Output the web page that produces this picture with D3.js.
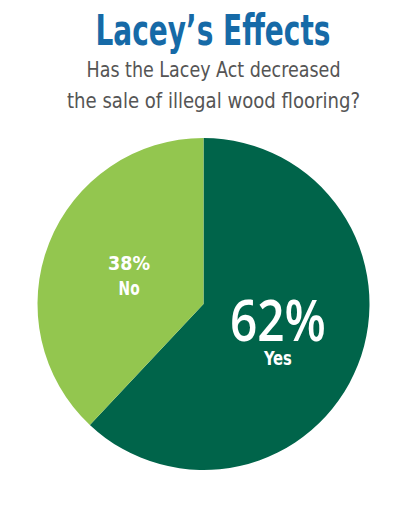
<!DOCTYPE html>
<html>
<head>
<meta charset="utf-8">
<script src="https://cdn.jsdelivr.net/npm/d3@7"></script>
<style>
  html, body { margin: 0; padding: 0; background: #fff; }
  svg { display: block; }
</style>
</head>
<body>
<div id="chart"></div>
<script>
// chart data
const answers = ["Yes", "No"];
const shares = [62, 38];
const titleText = "Lacey\u2019s Effects";
const subtitleLines = ["Has the Lacey Act decreased", "the sale of illegal wood flooring?"];

const width = 400, height = 510;
const cx = 203.5, cy = 304, radius = 166;

const svg = d3.select("#chart").append("svg")
    .attr("width", width)
    .attr("height", height);

const condensed = "'DejaVu Sans Condensed', 'Liberation Sans Narrow', Roboto, sans-serif";

// title + question
svg.append("text")
    .attr("x", 213).attr("y", 45)
    .attr("text-anchor", "middle")
    .attr("font-family", condensed)
    .attr("font-weight", "bold")
    .attr("font-size", 43)
    .attr("fill", "#166aa7")
    .attr("textLength", 235)
    .attr("lengthAdjust", "spacingAndGlyphs")
    .text(titleText);

const subWidths = [254, 293];
const subBase = [77, 108];
svg.append("g").selectAll("text")
    .data(subtitleLines)
    .join("text")
    .attr("x", 213.5)
    .attr("y", (d, i) => subBase[i])
    .attr("text-anchor", "middle")
    .attr("font-family", condensed)
    .attr("font-size", 21)
    .attr("fill", "#555555")
    .attr("textLength", (d, i) => subWidths[i])
    .attr("lengthAdjust", "spacingAndGlyphs")
    .text(d => d);

// pie
const data = answers.map((name, i) => ({ name, value: shares[i] }));

const color = d3.scaleOrdinal()
    .domain(answers)
    .range(["#00644a", "#93c64f"]);

const pie = d3.pie()
    .sort(null)
    .value(d => d.value);

const arc = d3.arc()
    .innerRadius(0)
    .outerRadius(radius);

const labelArc = d3.arc()
    .innerRadius(80)
    .outerRadius(80);

const arcs = pie(data);

const g = svg.append("g")
    .attr("transform", `translate(${cx},${cy})`);

g.selectAll("path")
    .data(arcs)
    .join("path")
    .attr("fill", d => color(d.data.name))
    .attr("d", arc);

// labels: big one for the majority, small for the rest
const big = d => d.data.name === "Yes";

const labels = g.selectAll("g.label")
    .data(arcs)
    .join("g")
    .attr("class", "label")
    .attr("transform", d => {
        const [x, y] = labelArc.centroid(d);
        return `translate(${x},${y})`;
    });

labels.append("text")
    .attr("text-anchor", "middle")
    .attr("y", d => big(d) ? 8 : -5)
    .attr("font-family", d => big(d) ? "'Open Sans', sans-serif" : condensed)
    .attr("font-weight", d => big(d) ? 600 : "bold")
    .attr("font-size", d => big(d) ? 57 : 19)
    .attr("fill", "#fff")
    .attr("textLength", d => big(d) ? 96 : 42)
    .attr("lengthAdjust", "spacingAndGlyphs")
    .text(d => d.data.value + "%");

labels.append("text")
    .attr("text-anchor", "middle")
    .attr("y", d => big(d) ? 32 : 20)
    .attr("font-family", condensed)
    .attr("font-weight", "bold")
    .attr("font-size", 20)
    .attr("fill", "#fff")
    .attr("textLength", d => big(d) ? 28 : 21)
    .attr("lengthAdjust", "spacingAndGlyphs")
    .text(d => d.data.name);
</script>
</body>
</html>
